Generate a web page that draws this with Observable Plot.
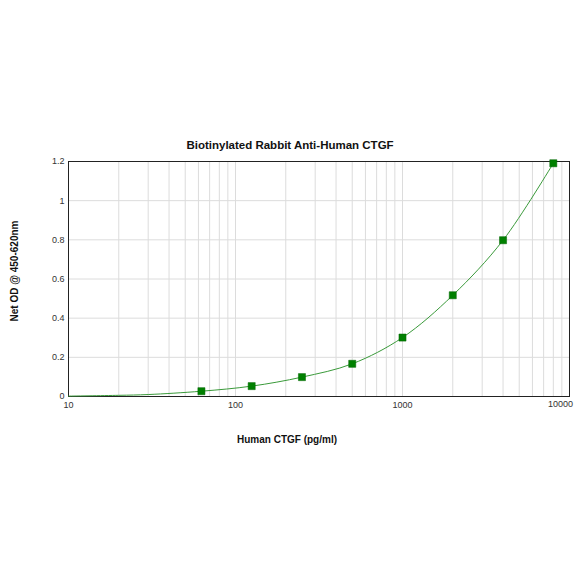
<!DOCTYPE html>
<html>
<head>
<meta charset="utf-8">
<script src="https://cdn.jsdelivr.net/npm/d3@7"></script>
<script src="https://cdn.jsdelivr.net/npm/@observablehq/plot@0.6"></script>
<style>
  html, body { margin: 0; padding: 0; background: #fff; }
  #chart { width: 584px; height: 584px; }
</style>
</head>
<body>
<div id="chart"></div>
<script>
// Measured standards
const concentration = [62.5, 125, 250, 500, 1000, 2000, 4000, 8000];
const netOD = [0.027, 0.053, 0.099, 0.167, 0.301, 0.517, 0.798, 1.191];

// Fitted curve
const fitConc = [10, 20, 30, 62.5, 125, 250, 500, 1000, 2000, 4000, 8000];
const fitOD = [0.002, 0.006, 0.010, 0.027, 0.053, 0.099, 0.167, 0.301, 0.517, 0.798, 1.191];

const yTicks = [0, 0.2, 0.4, 0.6, 0.8, 1, 1.2];
const xTickLabels = [10, 100, 1000];
const xLastLabel = [10000];
const xGrid = [10, 100, 1000].flatMap(d => [1,2,3,4,5,6,7,8,9].map(k => k * d)).concat([10000]);

const title = "Biotinylated Rabbit Anti-Human CTGF";
const xLabel = "Human CTGF (pg/ml)";
const yLabel = "Net OD @ 450-620nm";

const points = concentration.map((c, i) => ({c, od: netOD[i]}));
const fit = fitConc.map((c, i) => ({c, od: fitOD[i]}));

const font = "'Liberation Sans', Arial, sans-serif";

const chart = Plot.plot({
  width: 584,
  height: 584,
  marginLeft: 68,
  marginRight: 15,
  marginTop: 161,
  marginBottom: 188,
  style: {fontFamily: font, background: "#fff", overflow: "visible"},
  x: {type: "log", domain: [10, 10000], label: null},
  y: {domain: [0, 1.2], label: null},
  marks: [
    Plot.gridX(xGrid, {stroke: "#dcdcdc", strokeOpacity: 1}),
    Plot.gridY(yTicks, {stroke: "#dcdcdc", strokeOpacity: 1}),
    Plot.axisY(yTicks, {tickSize: 0, tickPadding: 4, tickFormat: d => String(d), fontSize: 9, fill: "#333", label: null}),
    Plot.axisX(xTickLabels, {tickSize: 0, tickPadding: 5, tickFormat: d => String(d), fontSize: 9, fill: "#333", label: null}),
    Plot.text(xLastLabel, {x: d => d, frameAnchor: "bottom", dy: 10, dx: -9, text: d => String(d), fontSize: 9, fill: "#333"}),
    Plot.frame({stroke: "#222", strokeWidth: 1}),
    Plot.line(fit, {x: "c", y: "od", stroke: "#3a9a3a", strokeWidth: 1, curve: "catmull-rom"}),
    Plot.dot(points, {x: "c", y: "od", symbol: "square", r: 4, fill: "#008000", stroke: "#006400", strokeWidth: 0.5}),
    Plot.text([title], {frameAnchor: "top", dy: -21, dx: -29, text: d => d, fontSize: 11.5, fontWeight: "bold", fill: "#111"}),
    Plot.text([xLabel], {frameAnchor: "bottom", dy: 46, dx: -32, text: d => d, fontSize: 10, fontWeight: "bold", fill: "#111"}),
    Plot.text([yLabel], {frameAnchor: "left", textAnchor: "middle", dx: -54, dy: -8, rotate: -90, text: d => d, fontSize: 10, fontWeight: "bold", fill: "#111"})
  ]
});
document.getElementById("chart").appendChild(chart);
</script>
</body>
</html>
